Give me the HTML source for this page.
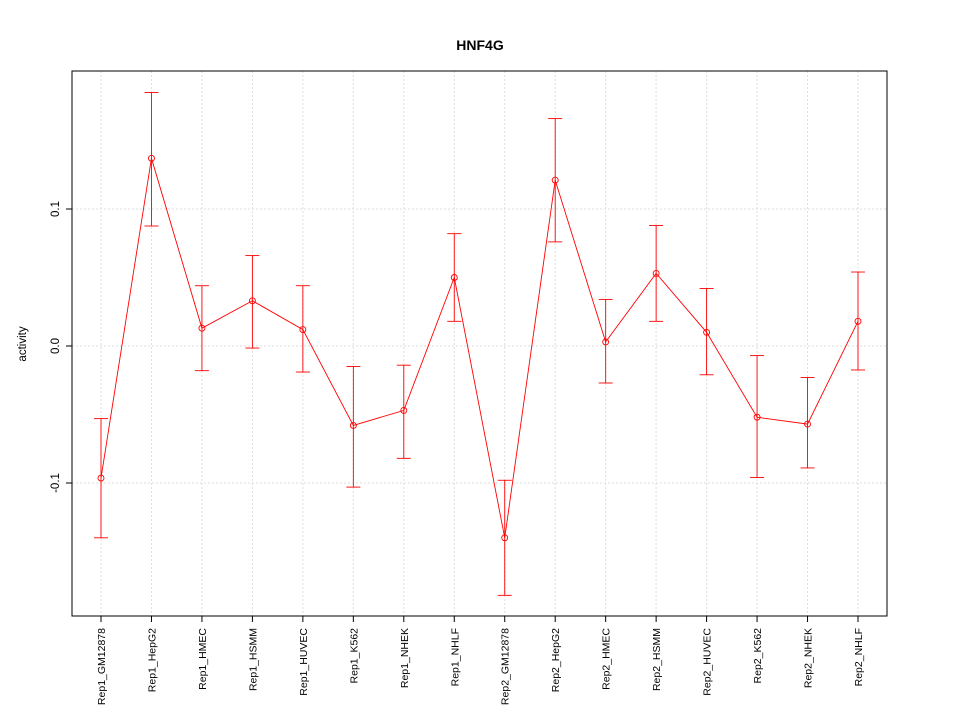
<!DOCTYPE html>
<html><head><meta charset="utf-8"><style>body{margin:0;background:#fff}svg{font-family:"Liberation Sans",sans-serif}</style></head>
<body>
<svg id="c" width="960" height="720" xmlns="http://www.w3.org/2000/svg"></svg>
<script>
const categories=["Rep1_GM12878","Rep1_HepG2","Rep1_HMEC","Rep1_HSMM","Rep1_HUVEC","Rep1_K562","Rep1_NHEK","Rep1_NHLF","Rep2_GM12878","Rep2_HepG2","Rep2_HMEC","Rep2_HSMM","Rep2_HUVEC","Rep2_K562","Rep2_NHEK","Rep2_NHLF"];
const values=[-0.0964,0.137,0.013,0.033,0.012,-0.058,-0.047,0.050,-0.140,0.121,0.003,0.053,0.010,-0.052,-0.057,0.018];
const upper=[-0.053,0.185,0.044,0.066,0.044,-0.015,-0.014,0.082,-0.098,0.166,0.034,0.088,0.042,-0.007,-0.023,0.054];
const lower=[-0.140,0.0876,-0.018,-0.0015,-0.019,-0.103,-0.082,0.018,-0.182,0.076,-0.027,0.018,-0.021,-0.096,-0.089,-0.0175];
const yTicks=[-0.1,0.0,0.1];
const yTickLabels=["-0.1","0.0","0.1"];
const L=72,R=887,T=71,B=616;
const x=i=>101+i*(858-101)/(categories.length-1);
const y=v=>346-v*1370;
const svg=document.getElementById('c');
function mk(t,a,p){const e=document.createElementNS("http://www.w3.org/2000/svg",t);for(const k in a)e.setAttribute(k,a[k]);(p||svg).appendChild(e);return e;}
categories.forEach((c,i)=>{const g=mk('line',{x1:x(i),x2:x(i),y1:T,y2:B,stroke:'#ddd','stroke-dasharray':'2,2'});

});
yTicks.forEach(v=>{const g=mk('line',{x1:L,x2:R,y1:y(v),y2:y(v),stroke:'#ddd','stroke-dasharray':'2,2'});

});
const bx=mk('rect',{x:L,y:T,width:R-L,height:B-T,fill:'none',stroke:'#000'});


yTicks.forEach((v,i)=>{mk('line',{x1:L-6,x2:L,y1:y(v),y2:y(v),stroke:'#000'});
const t=mk('text',{x:0,y:0,'font-size':11.5,'text-anchor':'middle',transform:`translate(${L-13},${y(v)}) rotate(-90)`});t.textContent=yTickLabels[i];

});
categories.forEach((c,i)=>{mk('line',{x1:x(i),x2:x(i),y1:B,y2:B+6,stroke:'#000'});
const t=mk('text',{x:0,y:0,'font-size':10.5,'text-anchor':'end',transform:`translate(${x(i)+4},${B+12}) rotate(-90)`});t.textContent=c;

});
const pl=mk('polyline',{points:values.map((v,i)=>x(i)+','+y(v)).join(' '),fill:'none',stroke:'#f00','stroke-width':0.9});


values.forEach((v,i)=>{const g=mk('g',{stroke:'#f00',fill:'none','stroke-width':0.9});


mk('line',{x1:x(i),x2:x(i),y1:y(upper[i]),y2:y(lower[i])},g);
mk('line',{x1:x(i)-7,x2:x(i)+7,y1:y(upper[i]),y2:y(upper[i])},g);
mk('line',{x1:x(i)-7,x2:x(i)+7,y1:y(lower[i]),y2:y(lower[i])},g);
const p=mk('circle',{cx:x(i),cy:y(v),r:3,fill:'none',stroke:'#f00','stroke-width':0.9});

});
const tt=mk('text',{x:480,y:50,'font-size':14,'font-weight':'bold','text-anchor':'middle'});tt.textContent='HNF4G';


const yl=mk('text',{x:0,y:0,'font-size':11.5,'text-anchor':'middle',transform:'translate(26,344) rotate(-90)'});yl.textContent='activity';


</script>
</body></html>
